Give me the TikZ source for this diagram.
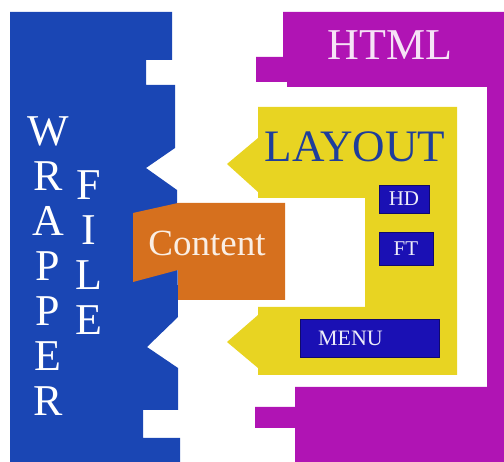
\documentclass[tikz,border=0pt]{standalone}
\usepackage{fontspec}
\setmainfont{Liberation Serif}
\usepackage{tikz}
\usetikzlibrary{positioning}
\definecolor{wrapblue}{RGB}{26,70,180}
\definecolor{htmlmag}{RGB}{176,20,180}
\definecolor{layyellow}{RGB}{232,212,34}
\definecolor{contorange}{RGB}{214,112,30}
\definecolor{tagblue}{RGB}{26,16,180}
\definecolor{laytext}{RGB}{30,62,155}

\begin{document}
\begin{tikzpicture}[x=1pt,y=-1pt,
    letter/.style={anchor=base,text=white,font=\fontsize{44}{44}\selectfont},
    tagbox/.style={fill=tagblue,draw=tagblue!60!black,text=white!92!tagblue,inner sep=0pt,
      font=\fontsize{21}{21}\selectfont}]
    \useasboundingbox (0,0) rectangle (504,462);
    % wrapper file
    \fill[wrapblue] (10,12) -- (172,12) -- (172,60) -- (146,60) -- (146,85) -- (175,85)
      -- (175,148) -- (146,168) -- (177,190) -- (178,317) -- (147,347) -- (178,368)
      -- (178,410) -- (143,410) -- (143,438) -- (180,438) -- (180,462) -- (10,462) -- cycle;
    % html frame
    \fill[htmlmag] (283,12) -- (504,12) -- (504,462) -- (295,462) -- (295,428) -- (255,428)
      -- (255,407) -- (295,407) -- (295,387) -- (487,387) -- (487,87) -- (287,87)
      -- (287,82) -- (256,82) -- (256,57) -- (283,57) -- cycle;
    % layout
    \fill[layyellow] (258,107) -- (457,107) -- (457,375) -- (258,375) -- (258,368)
      -- (227,342) -- (258,315) -- (258,307) -- (365,307) -- (365,198) -- (258,198)
      -- (258,192) -- (227,164) -- (258,138) -- cycle;
    % content
    \fill[contorange] (133,213) -- (178,203) -- (285,203) -- (285,300) -- (178,300)
      -- (178,270) -- (133,282) -- cycle;

    \foreach \l [count=\i from 0] in {W,R,A,P,P,E,R} {
      \node[letter] (wrap\i) at (48,{146+45*\i}) {\l};
    }
    \foreach \l [count=\i from 0] in {F,I,L,E} {
      \node[letter] (file\i) at (89,{200+45*\i}) {\l};
    }
    \node[anchor=base,text=white!88!htmlmag,font=\fontsize{44}{44}\selectfont] (html) at (390,60) {HTML};
    \node[anchor=base,text=laytext,font=\fontsize{45}{45}\selectfont] (layout) at (355,162) {LAYOUT};
    \node[anchor=base,text=white!88!contorange,font=\fontsize{37}{37}\selectfont] (content) at (207,256) {Content};

    \node[tagbox,minimum width=50,minimum height=28] (hd) at (404,199) {HD};
    \node[tagbox,minimum width=54,minimum height=33] (ft) at (406,248.5) {FT};
    \node[tagbox,minimum width=139,minimum height=38,text width=103,align=left,
      font=\fontsize{22}{22}\selectfont] (menu) at (369.5,338) {MENU};
\end{tikzpicture}
\end{document}
